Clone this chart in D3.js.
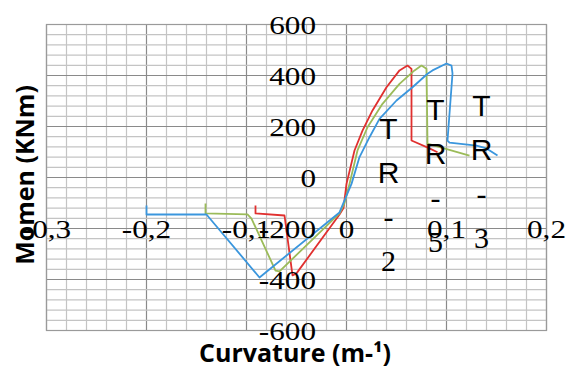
<!DOCTYPE html>
<html>
<head>
<meta charset="utf-8">
<script src="https://cdn.jsdelivr.net/npm/d3@7"></script>
<style>
  body { margin: 0; background: #fff; }
  svg { display: block; }
</style>
</head>
<body>
<svg id="chart" width="568" height="369"></svg>
<script>
// curvature (m-1) / moment (kNm) pairs
const tr2 = [[-0.091,-110],[-0.091,-141],[-0.062,-149],[-0.054,-384],[-0.050,-376],[-0.007,-145],[-0.003,-120],[0.000,-25],
  [0.008,106],[0.016,184],[0.026,263],[0.040,354],[0.053,420],[0.061,439],[0.065,426],[0.065,145],[0.083,114],[0.091,99]];
const tr5 = [[-0.141,-102],[-0.141,-141],[-0.099,-145],[-0.095,-161],[-0.071,-365],[-0.067,-368],[-0.007,-141],[-0.002,-100],[0.003,-25],
  [0.011,106],[0.021,197],[0.036,289],[0.053,367],[0.068,420],[0.075,439],[0.080,426],[0.081,133],[0.123,86]];
const tr3 = [[-0.200,-110],[-0.200,-145],[-0.140,-145],[-0.087,-392],[-0.007,-137],[-0.002,-90],[0.005,-25],
  [0.013,80],[0.023,158],[0.033,230],[0.050,302],[0.066,354],[0.081,407],[0.086,420],[0.100,447],[0.105,439],[0.106,408],
  [0.101,145],[0.103,137],[0.130,125],[0.140,114],[0.151,86]];

const seriesNames = ["TR-2", "TR-5", "TR-3"];
const seriesData = [tr2, tr5, tr3];
const seriesColors = ["#e0302f", "#9bbb59", "#3a96dd"];
// where each series' label column starts (data units)
const labelX = [0.042, 0.089, 0.135];
const labelY = [196, 267, 286];

const xTicks = [-0.3, -0.2, -0.1, 0, 0.1, 0.2];
const xTickLabels = ["-0,3", "-0,2", "-0,1", "0", "0,1", "0,2"];
const yTicks = [600, 400, 200, 0, -200, -400, -600];

const svg = d3.select("#chart");
const x = d3.scaleLinear().domain([-0.3, 0.2]).range([46.5, 546.5]);
const y = d3.scaleLinear().domain([-600, 600]).range([330.5, 24.5]);

// grid: minor every 0.02 / 40, major every 0.1 / 200
const grid = svg.append("g");
d3.range(-15, 11).forEach(i => {
  grid.append("line").attr("x1", x(i * 0.02)).attr("x2", x(i * 0.02))
    .attr("y1", y(-600)).attr("y2", y(600))
    .attr("stroke", i % 5 === 0 ? "#8a8a8a" : "#c4c4c4").attr("stroke-width", 1.2);
});
d3.range(-15, 16).forEach(i => {
  grid.append("line").attr("y1", y(i * 40)).attr("y2", y(i * 40))
    .attr("x1", x(-0.3)).attr("x2", x(0.2))
    .attr("stroke", i % 5 === 0 ? "#8a8a8a" : "#c4c4c4").attr("stroke-width", 1.2);
});
grid.append("rect").attr("x", x(-0.3)).attr("y", y(600))
  .attr("width", x(0.2) - x(-0.3)).attr("height", y(-600) - y(600))
  .attr("fill", "none").attr("stroke", "#9a9a9a").attr("stroke-width", 1.2);

// series
const line = d3.line().x(d => x(d[0])).y(d => y(d[1]));
svg.append("g").selectAll("path")
  .data(seriesData)
  .join("path")
  .attr("d", line)
  .attr("fill", "none")
  .attr("stroke", (d, i) => seriesColors[i])
  .attr("stroke-width", 1.8)
  .attr("stroke-linejoin", "round");

// y tick labels
svg.append("g").selectAll("text")
  .data(yTicks)
  .join("text")
  .attr("transform", d => `translate(316,${y(d) + 9}) scale(1.2,1)`)
  .attr("text-anchor", "end")
  .style("font-family", "'Liberation Serif', serif")
  .style("font-size", "26px")
  .text(d => d);

// x tick labels
svg.append("g").selectAll("text")
  .data(xTicks)
  .join("text")
  .attr("transform", d => `translate(${x(d)},${y(-200) + 9}) scale(1.2,1)`)
  .attr("text-anchor", "middle")
  .style("font-family", "'Liberation Serif', serif")
  .style("font-size", "26px")
  .text((d, i) => xTickLabels[i]);

// data labels, one character per line
seriesNames.forEach((name, i) => {
  const g = svg.append("g");
  name.split("").forEach((ch, j) => {
    const isLetter = /[A-Z]/.test(ch);
    g.append("text")
      .attr("x", x(labelX[i]))
      .attr("y", y(labelY[i]) + j * 44 + 11)
      .attr("text-anchor", "middle")
      .style("font-family", isLetter ? "'Liberation Sans', Arial, sans-serif" : "'Liberation Serif', serif")
      .style("font-size", "30px")
      .text(ch);
  });
});

// axis titles
svg.append("text")
  .attr("x", 295).attr("y", 362)
  .attr("text-anchor", "middle")
  .style("font-family", "'Open Sans', sans-serif")
  .style("font-weight", 700)
  .style("font-size", "25px")
  .text("Curvature (m-¹)");

svg.append("text")
  .attr("transform", "translate(34,175) rotate(-90)")
  .attr("text-anchor", "middle")
  .style("font-family", "'Open Sans', sans-serif")
  .style("font-weight", 700)
  .style("font-size", "25px")
  .text("Momen (KNm)");
</script>
</body>
</html>
